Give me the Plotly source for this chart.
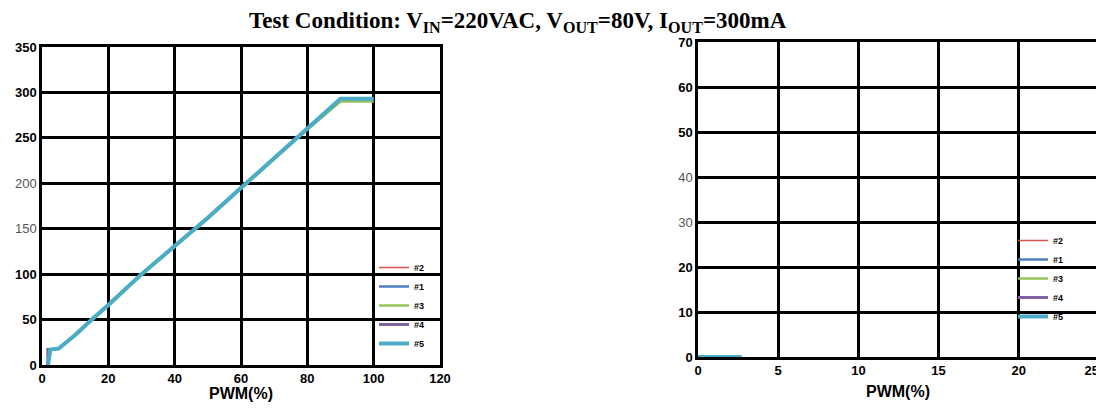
import plotly.graph_objects as go

series_names = ["#2", "#1", "#3", "#4", "#5"]
series_colors = ["#d9534f", "#4a7ebb", "#98c35a", "#8064a2", "#4bacc6"]
series_widths = [1.5, 2.5, 2.5, 3, 4]

# left chart: PWM (%) vs output (mA)
left_x = [1.8, 1.8, 2.5, 5, 10, 15, 20, 30, 40, 50, 60, 70, 80, 90, 100]
left_y = {
    "#2": [0, 17, 17, 18, 33, 50, 66, 100, 131, 162, 195, 228, 260, 293, 293],
    "#1": [0, 17, 17, 18, 33, 50, 66, 100, 131, 162, 195, 228, 260, 293, 293],
    "#3": [0, 17, 17, 18, 33, 49, 65, 99, 130, 161, 194, 227, 259, 290, 290],
    "#4": [0, 17, 17, 18, 33, 50, 66, 100, 131, 162, 195, 228, 260, 293, 293],
    "#5": [0, 0, 17, 18, 33, 50, 66, 100, 131, 162, 195, 228, 260, 293, 293],
}
# right chart: zoomed low range
right_x = [0, 1, 2, 2.7]
right_y = {
    "#2": [0, 0, 0, 0],
    "#1": [0, 0, 0, 0],
    "#3": [0, 0, 0, 0],
    "#4": [0, 0, 0, 0],
    "#5": [0, 0, 0, 0],
}

left_xticks = [0, 20, 40, 60, 80, 100, 120]
left_yticks = [0, 50, 100, 150, 200, 250, 300, 350]
left_ygrey = [150, 200]
right_xticks = [0, 5, 10, 15, 20, 25]
right_yticks = [0, 10, 20, 30, 40, 50, 60, 70]
right_ygrey = [30, 40]

W, H = 1104, 410
OFF = 8  # page body margin offset

fig = go.Figure()
for i, n in enumerate(series_names):
    fig.add_trace(go.Scatter(x=left_x, y=left_y[n], mode="lines", name="<b>%s</b>" % n,
                             line=dict(color=series_colors[i], width=series_widths[i]),
                             xaxis="x", yaxis="y", legend="legend"))
for i, n in enumerate(series_names):
    fig.add_trace(go.Scatter(x=right_x, y=right_y[n], mode="lines", name="<b>%s</b>" % n,
                             line=dict(color=series_colors[i], width=series_widths[i]),
                             xaxis="x2", yaxis="y2", legend="legend2"))


def yt(vals, grey):
    out = []
    for v in vals:
        if v in grey:
            out.append("<span style='color:#555555'>%d</span>" % v)
        else:
            out.append("<b>%d</b>" % v)
    return out


def xt(vals, last_pad=False):
    out = ["<b>%d</b>" % v for v in vals]
    if last_pad:
        out[-1] = out[-1] + "\u00a0\u00a0\u00a0\u00a0"
    return out


def px(x):
    return (x - OFF) / W


def py(y):
    return 1 - (y - OFF) / H


axis_common = dict(showline=True, linecolor="black", linewidth=2.5, mirror=True,
                   showgrid=True, gridcolor="black", gridwidth=2.5, zeroline=False,
                   automargin=False, ticks="", ticklabeloverflow="allow",
                   tickfont=dict(family="Liberation Sans", size=13, color="black"))

fig.update_layout(
    width=W, height=H,
    margin=dict(l=0, r=0, t=0, b=0),
    paper_bgcolor="white", plot_bgcolor="white",
    xaxis=dict(domain=[px(42), px(440)], range=[0, 120], tickvals=left_xticks,
               ticktext=xt(left_xticks), anchor="y", **axis_common),
    yaxis=dict(domain=[py(365), py(47)], range=[0, 350], tickvals=left_yticks,
               ticktext=yt(left_yticks, left_ygrey), anchor="x", **axis_common),
    xaxis2=dict(domain=[px(698), px(1099)], range=[0, 25], tickvals=right_xticks,
                ticktext=xt(right_xticks, True), anchor="y2", **axis_common),
    yaxis2=dict(domain=[py(357), py(42)], range=[0, 70], tickvals=right_yticks,
                ticktext=yt(right_yticks, right_ygrey), anchor="x2", **axis_common),
    legend=dict(x=px(374), y=py(253), xanchor="left", yanchor="top",
                bgcolor="rgba(0,0,0,0)",
                font=dict(family="Liberation Sans", size=9, color="black"),
                itemwidth=30, tracegroupgap=0),
    legend2=dict(x=px(1013), y=py(226), xanchor="left", yanchor="top",
                 bgcolor="rgba(0,0,0,0)",
                 font=dict(family="Liberation Sans", size=9, color="black"),
                 itemwidth=30, tracegroupgap=0),
    annotations=[
        dict(text="<b>Test Condition: V<sub>IN</sub>=220VAC, V<sub>OUT</sub>=80V, I<sub>OUT</sub>=300mA</b>",
             x=px(518), y=py(22), xref="paper", yref="paper", xanchor="center",
             yanchor="middle", showarrow=False,
             font=dict(family="Liberation Serif", size=23, color="black")),
        dict(text="<b>PWM(%)</b>", x=px(241), y=py(393), xref="paper", yref="paper",
             xanchor="center", yanchor="middle", showarrow=False,
             font=dict(family="Liberation Sans", size=16, color="black")),
        dict(text="<b>PWM(%)</b>", x=px(898), y=py(391), xref="paper", yref="paper",
             xanchor="center", yanchor="middle", showarrow=False,
             font=dict(family="Liberation Sans", size=16, color="black")),
    ],
)

fig.write_html("out.html")
